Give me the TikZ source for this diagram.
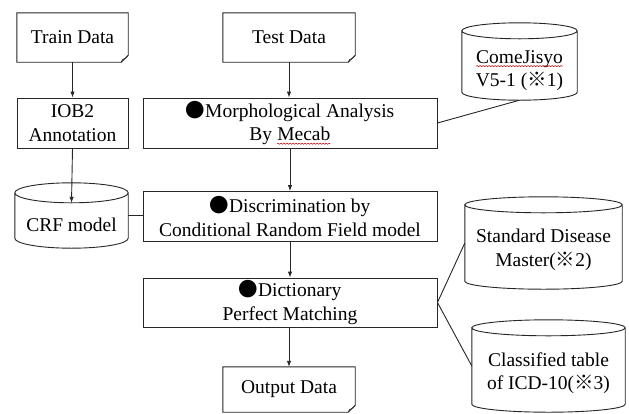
\documentclass[tikz,border=0pt]{standalone}
\usepackage{fontspec}
\setmainfont{Liberation Serif}
\newfontfamily\cjk{Noto Sans CJK JP}
\usetikzlibrary{arrows.meta,calc,decorations.pathmorphing}

% red wavy spell-check underline under a word
\newcommand\spellwave[1]{\tikz[baseline=(sw.base)]{\node[rectangle,draw=none,minimum width=0pt,minimum height=0pt,inner sep=0pt,outer sep=0pt] (sw) {#1};
  \draw[red!75!black,line width=0.5pt,decorate,decoration={snake,amplitude=0.6pt,segment length=3pt}]
    ([yshift=-3pt]sw.base west) -- ([yshift=-3pt]sw.base east);}}
\newcommand\bigdot{{\cjk ●}}
\newcommand\refmark{{\cjk ※}}

% document outline with a folded bottom-right corner
\newcommand\docoutline[1]{%
  \draw[ln] (#1.north west) -- (#1.north east) -- ([yshift=7pt]#1.south east)
    -- ([xshift=-7pt]#1.south east) -- (#1.south west) -- cycle;
  \draw[ln,line width=0.6pt] ([yshift=7pt]#1.south east)
    .. controls ([xshift=-2pt,yshift=2pt]#1.south east) and ([xshift=-6pt,yshift=5pt]#1.south east)
    .. ([xshift=-7pt]#1.south east);}

% database cylinder around a node; #2 = vertical radius of the ellipses
\newcommand\cylinder[2]{%
  \draw[ln] let \p1=(#1.north west), \p2=(#1.south east), \n1={(\x2-\x1)/2} in
    (\x1,\y1-#2) -- (\x1,\y2+#2)
    arc[start angle=180,end angle=360,x radius=\n1,y radius=#2]
    -- (\x2,\y1-#2)
    arc[start angle=0,end angle=360,x radius=\n1,y radius=#2];}

\tikzset{
  ln/.style={draw=black!85, line width=0.9pt},
  flow/.style={ln, -{Latex[length=6pt,width=4.5pt]}},
  frame/.style={ln, rectangle, align=center, inner sep=0pt},
  holder/.style={rectangle, align=center, inner sep=0pt, draw=none},
  lbl/.style={align=center, inner sep=0pt},
  every node/.style={font=\fontsize{19.5}{23.5}\selectfont, text=black}
}

\begin{document}
\begin{tikzpicture}[x=1pt,y=-1pt]
\useasboundingbox[fill=white] (0,0) rectangle (629,413);

% left column
\node[holder, minimum width=111pt, minimum height=49pt] (train) at (72.5,37.5) {Train Data};
\node[frame, minimum width=111pt, minimum height=50pt] (iob) at (72.5,123) {IOB2\\Annotation};
\node[holder, minimum width=113pt, minimum height=65pt] (crf) at (71.5,215.5) {};
\node[lbl] (crftxt) at ([yshift=-9pt]crf.center) {CRF model};

% main pipeline
\node[holder, minimum width=132pt, minimum height=49pt] (test) at (289,37.5) {Test Data};
\node[frame, minimum width=294pt, minimum height=50pt] (morph) at (290,123)
  {\bigdot Morphological Analysis\\By \spellwave{Mecab}};
\node[frame, minimum width=294pt, minimum height=50pt] (discrim) at (290,216.5)
  {\bigdot Discrimination by\\Conditional Random Field model};
\node[frame, minimum width=294pt, minimum height=49pt] (dict) at (290,302.5)
  {\bigdot Dictionary\\Perfect Matching};
\node[holder, minimum width=132pt, minimum height=45pt] (output) at (289,389.5) {Output Data};

% dictionaries
\node[holder, minimum width=115pt, minimum height=77pt] (cj) at (519.5,61.5) {};
\node[lbl] (cjtxt) at ([yshift=-9pt]cj.center) {\spellwave{ComeJisyo}\\V5-1 (\refmark 1)};
\node[holder, minimum width=157pt, minimum height=92pt] (std) at (543.5,243) {};
\node[lbl] (stdtxt) at ([yshift=-7pt]std.center) {Standard Disease\\Master(\refmark 2)};
\node[holder, minimum width=153pt, minimum height=92pt] (cls) at (548.5,366) {};
\node[lbl] (clstxt) at ([yshift=-7pt]cls.center) {Classified table\\of ICD-10(\refmark 3)};

% outlines
\docoutline{train}
\docoutline{test}
\docoutline{output}
\cylinder{crf}{10pt}
\cylinder{cj}{8pt}
\cylinder{std}{8pt}
\cylinder{cls}{8pt}

% connectors
\draw[flow] (train.south) -- (iob.north);
\draw[flow] (iob.south) -- ([yshift=-20pt]crf.north);
\draw[ln] (crf.east) -- (crf.east -| discrim.west);
\draw[flow] (test.south) -- (test.south |- morph.north);
\draw[flow] (morph.south) -- (discrim.north);
\draw[flow] (discrim.south) -- (dict.north);
\draw[flow] (dict.south -| output.north) -- (output.north);
\draw[ln] (morph.east) -- (cj.south);
\draw[ln] (dict.east) -- (std.west);
\draw[ln] (dict.east) -- (cls.west);
\end{tikzpicture}
\end{document}
